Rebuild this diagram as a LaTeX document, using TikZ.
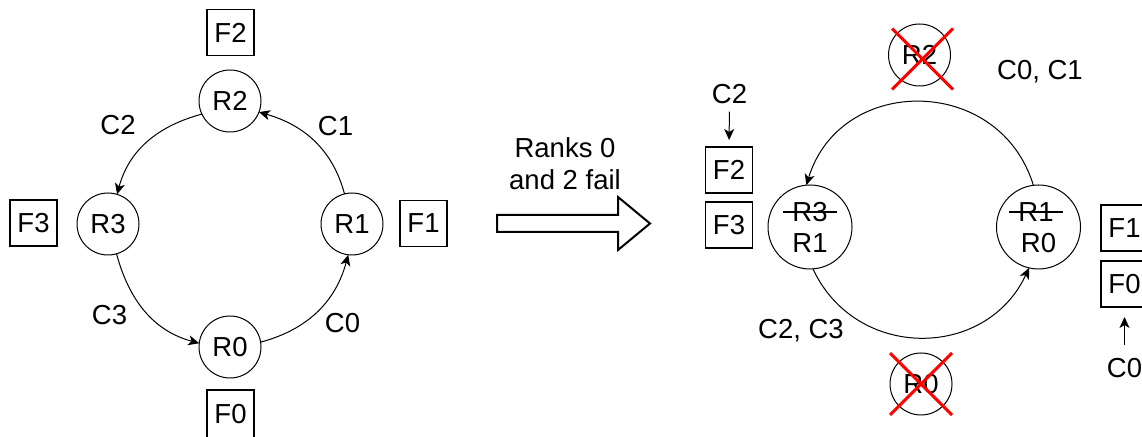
\documentclass[tikz,border=0pt]{standalone}
\usepackage{fontspec}
\setmainfont{Liberation Sans}
\usetikzlibrary{arrows.meta}
\begin{document}
\begin{tikzpicture}[x=1pt,y=1pt,
  every node/.style={font=\fontsize{27.5pt}{32pt}\selectfont, inner sep=0pt, outer sep=0pt},
  rank/.style={circle, draw, line width=1pt, minimum size=62pt},
  bigrank/.style={circle, draw, line width=1pt, minimum size=84pt},
  frag/.style={rectangle, draw, line width=1.2pt, minimum width=47pt, minimum height=46pt},
  link/.style={line width=1pt, -{Stealth[length=11pt,width=10pt,inset=3pt]}},
  crossline/.style={draw=red, line width=3pt},
  strikeline/.style={line width=1.2pt},
  bigarrow/.style={draw, fill=white, line width=2pt, line join=miter}
]
\useasboundingbox (0,0) rectangle (1142,436);

% ---------- ring before the failure ----------
\node[rank] (R2) at (230,335) {R2};
\node[rank] (R3) at (108,212) {R3};
\node[rank] (R1) at (352,212) {R1};
\node[rank] (R0) at (230,89) {R0};

\node[frag] (F2) at (230.5,403.5) {F2};
\node[frag] (F3) at (33.5,213) {F3};
\node[frag] (F1) at (423.5,212.5) {F1};
\node[frag, minimum height=49pt] (F0) at (230.5,21.5) {F0};

\node (C2) at (118,311) {C2};
\node (C1) at (335.5,310) {C1};
\node (C3) at (109.5,121) {C3};
\node (C0) at (342.5,113) {C0};

\draw[link] (R2.205) to[out=195,in=75] (R3.73);
\draw[link] (R1.104) to[out=105,in=-16] (R2.-21);
\draw[link] (R3.286) to[out=285,in=165] (R0.173);
\draw[link] (R0.9) to[out=15,in=255] (R1.263);

% ---------- transition ----------
\node[align=center] (fail) at (565,272) {Ranks 0\\and 2 fail};
\draw[bigarrow] (497,204) -- (618,204) -- (618,186) -- (650,212.5)
  -- (618,239) -- (618,221) -- (497,221) -- cycle;

% ---------- ring after the failure ----------
\node[rank] (D2) at (919.5,381) {R2};
\node[rank] (D0) at (921,52) {R0};
\coordinate (X2) at (922.5,377);
\coordinate (X0) at (921,52);
\draw[crossline] ([shift={(-30.5,30.5)}]X2) -- ([shift={(30.5,-30.5)}]X2);
\draw[crossline] ([shift={(30.5,30.5)}]X2) -- ([shift={(-30.5,-30.5)}]X2);
\draw[crossline] ([shift={(-31,31)}]X0) -- ([shift={(31,-31)}]X0);
\draw[crossline] ([shift={(31,31)}]X0) -- ([shift={(-31,-31)}]X0);

\node[bigrank] (NL) at (810,209) {};
\node (oldL) at (810,224) {R3};
\node (newL) at (810,193) {R1};
\draw[strikeline] ([xshift=-9pt]oldL.west) -- ([xshift=9pt]oldL.east);

\node[bigrank] (NR) at (1038.5,209) {};
\node (oldR) at (1036,224) {R1};
\node (newR) at (1038.5,193) {R0};
\draw[strikeline] ([xshift=-9pt]oldR.west) -- ([xshift=9pt]oldR.east);

\draw[link] (NR.97) to[out=107,in=73,looseness=1.31] (NL.95);
\draw[link] (NL.274) to[out=295,in=245,looseness=1.2] (NR.257);

\node (C01) at (1040,364.5) {C0, C1};
\node (C23) at (801,105) {C2, C3};

\node[frag] (G2) at (729,266) {F2};
\node[frag] (G3) at (729,211) {F3};
\node[frag] (G1) at (1124.5,208) {F1};
\node[frag] (G0) at (1124.5,152) {F0};

\node (K2) at (729.5,342) {C2};
\node (K0) at (1124.5,68) {C0};
\draw[link, shorten <=8pt, shorten >=7pt] (K2.south) -- (G2.north);
\draw[link, shorten <=13pt, shorten >=10pt] (K0.north) -- (G0.south);
\end{tikzpicture}
\end{document}
